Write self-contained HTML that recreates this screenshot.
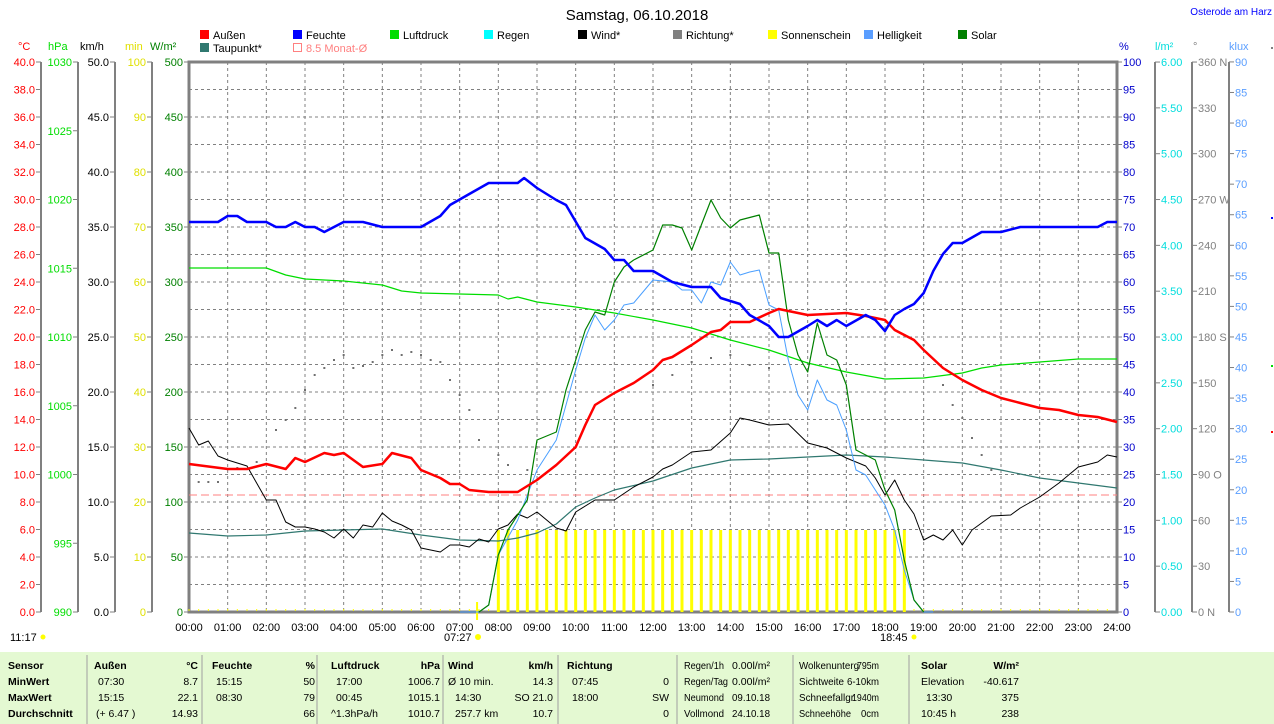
<!DOCTYPE html>
<html><head><meta charset="utf-8"><style>
body{margin:0;background:#fff;width:1274px;height:724px;overflow:hidden;font-family:"Liberation Sans",sans-serif}
svg{display:block}
text{font-family:"Liberation Sans",sans-serif;font-size:11px}
text.f{font-size:10.5px}
</style></head><body>
<svg id="s" width="1274" height="724" xmlns="http://www.w3.org/2000/svg">
<rect x="0" y="652" width="1274" height="72" fill="#e4f9d2"/>
<text x="637" y="20" text-anchor="middle" style="font-size:15px">Samstag, 06.10.2018</text>
<text x="1272" y="15" text-anchor="end" fill="#0000ff" style="font-size:10px">Osterode am Harz</text>
<g id="g"></g>
</svg>
<script>
const NS="http://www.w3.org/2000/svg",g=document.getElementById('g');
function el(t,a,txt){const e=document.createElementNS(NS,t);for(const k in a)e.setAttribute(k,a[k]);if(txt!==undefined)e.textContent=txt;g.appendChild(e);return e;}
const X0=189,XW=928,Y0=612,YT=62;
const X=h=>X0+h*XW/24;
function tp(s){const[a,b]=s.split(':');return +a+(+b)/60;}
for(let i=1;i<20;i++){const y=YT+i*27.5;el('line',{x1:X0,x2:X0+XW,y1:y,y2:y,stroke:'#808080','stroke-dasharray':'3,3'});}
for(let h=1;h<24;h++){el('line',{x1:X(h),x2:X(h),y1:YT,y2:Y0,stroke:'#808080','stroke-dasharray':'3,3'});}
function axis(x,vals,color,fmt,lside){
  el('line',{x1:x,x2:x,y1:YT,y2:Y0,stroke:'#808080','stroke-width':2});
  vals.forEach(v=>{const y=v[0];
    if(lside){el('line',{x1:x-5,x2:x,y1:y,y2:y,stroke:'#808080'});el('text',{x:x-6,y:y+4,'text-anchor':'end',fill:color},v[1]);}
    else{el('line',{x1:x,x2:x+5,y1:y,y2:y,stroke:'#808080'});el('text',{x:x+6,y:y+4,fill:color},v[1]);}
  });
}
let a=[];for(let i=0;i<=20;i++)a.push([Y0-i*27.5,(i*2).toFixed(1)]);axis(41,a,'#ff0000',0,1);
a=[];for(let i=0;i<=8;i++)a.push([Y0-i*68.75,String(990+i*5)]);axis(78,a,'#00dd00',0,1);
a=[];for(let i=0;i<=10;i++)a.push([Y0-i*55,(i*5).toFixed(1)]);axis(115,a,'#000',0,1);
a=[];for(let i=0;i<=10;i++)a.push([Y0-i*55,String(i*10)]);axis(152,a,'#e0e000',0,1);
a=[];for(let i=0;i<=10;i++)a.push([Y0-i*55,String(i*50)]);axis(189,a,'#008000',0,1);
a=[];for(let i=0;i<=20;i++)a.push([Y0-i*27.5,String(i*5)]);axis(1117,a,'#0000cc',0,0);
a=[];for(let i=0;i<=12;i++)a.push([Y0-i*45.83,(i*0.5).toFixed(2)]);axis(1155,a,'#00dddd',0,0);
const dl={0:'0 N',90:'90 O',180:'180 S',270:'270 W',360:'360 N'};
a=[];for(let i=0;i<=12;i++)a.push([Y0-i*45.83,dl[i*30]||String(i*30)]);axis(1192,a,'#808080',0,0);
a=[];for(let i=0;i<=18;i++)a.push([Y0-i*30.56,String(i*5)]);axis(1229,a,'#5a9eff',0,0);
[[18,'°C','#ff0000'],[48,'hPa','#00dd00'],[80,'km/h','#000'],[125,'min','#e0e000'],[150,'W/m²','#008000'],[1119,'%','#0000cc'],[1155,'l/m²','#00dddd'],[1193,'°','#808080'],[1229,'klux','#5a9eff']].forEach(u=>el('text',{x:u[0],y:50,fill:u[2]},u[1]));
el('rect',{x:X0,y:YT,width:XW,height:Y0-YT,fill:'none',stroke:'#808080','stroke-width':3});
for(let h=0;h<=24;h++)el('text',{x:X(h),y:631,'text-anchor':'middle'},(h<10?'0':'')+h+':00');
for(let h=0;h<24;h+=0.25)el('rect',{x:X(h)-0.5,y:609,width:1,height:2,fill:'#ffff00'});
el('text',{x:444,y:641},'07:27');el('circle',{cx:478,cy:637,r:3,fill:'#ffff00'});
el('line',{x1:X(7.45),x2:X(7.45),y1:602,y2:620,stroke:'#ffff00','stroke-width':2});
el('text',{x:880,y:641},'18:45');el('circle',{cx:914,cy:637,r:2.5,fill:'#ffff00'});
el('text',{x:10,y:641},'11:17');el('circle',{cx:43,cy:637,r:2.5,fill:'#ffff00'});
for(let h=8;h<=18.51;h+=0.25)el('rect',{x:X(h)-1.5,y:530,width:3,height:82,fill:'#ffff00'});
el('line',{x1:X0,x2:X0+XW,y1:495,y2:495,stroke:'#ff8080','stroke-dasharray':'8,4'});
function line(d,color,w){let p='';d.forEach((q,i)=>{p+=(i?'L':'M')+X(tp(q[0])).toFixed(1)+','+q[1]+' ';});el('path',{d:p,fill:'none',stroke:color,'stroke-width':w,'stroke-linejoin':'round'});}
function P(s){return s.trim().split(/\s+/).map(t=>{const[a,b]=t.split('=');return[a,+b];});}
P(`0:15=482 0:30=482 0:45=482 1:15=468 1:45=462 2:15=430 2:30=420 2:45=408 3:00=390 3:15=375 3:30=368 3:45=360 4:00=355 4:15=368 4:30=366 4:45=362 5:00=355 5:15=350 5:30=355 5:45=352 6:00=355 6:15=360 6:30=362 6:45=380 7:00=395 7:15=410 7:30=440 8:00=455 8:15=465 8:45=470 12:00=385 12:30=375 13:00=362 13:30=358 14:00=355 14:30=365 15:00=368 18:30=335 18:45=340 19:00=345 19:30=385 19:45=405 20:00=418 20:15=438 20:30=455 20:45=470`).forEach(q=>el('rect',{x:X(tp(q[0]))-1,y:q[1]-1,width:2,height:2,fill:'#707070'}));
line(P(`0:00=533 1:00=536 2:00=535 3:00=531 4:00=530 5:00=529 6:00=535 7:00=540 8:00=541 8:30=538 9:00=533 9:30=524 10:00=507 10:30=498 11:00=490 12:00=481 13:00=468 14:00=460 15:00=459 16:00=457 17:00=455 18:00=457 19:00=460 20:00=463 21:00=470 22:00=478 23:00=483 24:00=488`),'#307870',1.2);
line(P(`0:00=268 2:00=268 2:30=275 3:00=279 4:00=281 5:00=285 5:30=291 6:00=293 8:00=295 8:15=299 8:30=297 9:00=302 10:00=307 11:00=313 12:00=320 13:00=328 14:00=340 15:00=350 16:00=363 17:00=372 18:00=379 19:00=378 20:00=373 20:30=368 21:00=365 22:00=362 23:00=359 24:00=359`),'#00dd00',1.2);
line(P(`0:00=428 0:15=445 0:30=441 0:45=456 1:00=460 1:30=466 2:00=500 2:15=500 2:30=522 2:45=527 3:00=527 3:15=529 3:30=532 3:45=538 4:00=529 4:15=538 4:30=525 4:45=527 5:00=513 5:15=521 5:30=525 5:45=530 6:00=548 6:30=552 6:45=545 7:00=545 7:15=547 7:30=539 7:45=542 8:00=529 8:15=525 8:30=514 8:45=518 9:00=512 9:30=528 9:45=531 10:00=512 10:30=500 11:00=500 11:30=487 12:00=477 12:15=469 12:30=465 13:00=452 13:30=450 14:00=433 14:15=418 14:30=420 15:00=425 15:30=424 16:00=443 16:30=448 17:00=458 17:30=466 17:45=478 18:00=495 18:15=480 18:30=500 18:45=514 19:00=540 19:15=535 19:30=540 19:45=530 20:00=545 20:15=530 20:45=516 21:15=515 21:30=508 22:00=497 22:30=483 23:00=467 23:30=462 23:45=455 24:00=457`),'#000',1);
line(P(`7:00=612 7:30=612 7:45=605 8:00=555 8:30=520 9:00=470 9:30=440 9:45=405 10:00=370 10:15=338 10:30=315 10:45=330 11:00=320 11:15=305 11:30=303 12:00=280 12:30=282 12:45=290 13:00=290 13:15=303 13:30=282 13:45=285 14:00=262 14:15=275 14:30=272 14:45=270 15:00=305 15:15=310 15:30=360 15:45=395 16:00=410 16:15=380 16:30=400 16:45=405 17:00=430 17:15=470 17:30=475 17:45=490 18:00=505 18:15=530 18:30=570 18:45=600 19:00=612 19:15=612`),'#4a9fff',1);
line(P(`7:30=612 7:45=605 8:00=555 8:15=530 8:45=500 9:00=440 9:30=432 9:45=390 10:00=360 10:15=330 10:30=312 10:45=315 11:00=282 11:15=267 11:30=260 12:00=250 12:15=225 12:30=225 12:45=228 13:00=250 13:15=225 13:30=200 13:45=218 14:00=228 14:15=220 14:45=215 15:00=253 15:15=253 15:30=320 15:45=355 16:00=372 16:15=323 16:30=355 16:45=360 17:00=385 17:15=450 17:30=455 17:45=460 18:00=490 18:15=510 18:30=560 18:45=600 19:00=612`),'#008000',1.2);
line(P(`0:00=464 1:00=469 1:30=469 2:00=464 2:30=469 2:45=458 3:00=462 3:30=453 3:45=455 4:00=453 4:30=467 5:00=464 5:15=453 5:45=458 6:00=470 6:30=478 6:45=484 7:00=484 7:15=490 7:45=492 8:30=492 9:00=480 9:30=465 10:00=447 10:15=425 10:30=405 11:00=393 11:30=383 12:00=370 12:15=360 12:30=357 13:00=345 13:30=332 13:45=330 14:00=322 14:30=322 15:00=313 15:15=309 15:45=313 16:00=315 17:00=313 17:30=316 18:00=320 18:15=330 18:45=340 19:00=350 19:30=368 20:00=380 20:30=390 21:00=398 21:30=403 22:00=408 22:30=410 23:00=415 23:30=417 24:00=422`),'#ff0000',2.5);
line(P(`0:00=222 0:45=222 1:00=216 1:15=216 1:30=222 2:00=222 2:15=227 2:30=227 2:45=222 3:00=227 3:15=227 3:30=232 4:00=222 4:30=222 5:00=227 6:00=227 6:30=216 6:45=205 7:15=194 7:45=183 8:30=183 8:40=178 9:00=188 9:30=200 9:45=205 10:15=238 10:45=249 11:00=260 11:15=260 11:30=271 12:00=271 12:30=282 13:00=287 13:30=287 13:45=298 14:15=304 14:30=315 15:00=326 15:15=337 15:30=337 16:00=326 16:15=320 16:30=326 16:45=320 17:00=326 17:30=315 17:45=320 18:00=331 18:15=315 18:30=309 18:45=304 19:00=293 19:15=271 19:30=254 19:45=243 20:00=243 20:30=232 21:00=232 21:30=227 22:00=227 23:30=227 23:45=222 24:00=222`),'#0000ff',2.5);
[[48,'#808080'],[218,'#0000ff'],[432,'#ff0000'],[366,'#00dd00']].forEach(m=>el('rect',{x:1271,y:m[0]-1,width:2,height:2,fill:m[1]}));
[[200,38,'#ff0000','Außen'],[293,38,'#0000ff','Feuchte'],[390,38,'#00dd00','Luftdruck'],[484,38,'#00ffff','Regen'],[578,38,'#000','Wind*'],[673,38,'#808080','Richtung*'],[768,38,'#ffff00','Sonnenschein'],[864,38,'#5a9eff','Helligkeit'],[958,38,'#008000','Solar'],[200,51,'#307870','Taupunkt*']].forEach(l=>{el('rect',{x:l[0],y:l[1]-8,width:9,height:9,fill:l[2]});el('text',{x:l[0]+13,y:l[1]+1},l[3]);});
el('rect',{x:293.5,y:43.5,width:8,height:8,fill:'none',stroke:'#ff8080'});el('text',{x:306,y:52,fill:'#ff8080'},'8.5 Monat-Ø');
[87,202,317,443,558,677,793,909].forEach(x=>el('line',{x1:x,x2:x,y1:655,y2:724,stroke:'#a0a0a0'}));
const rows=[669,685,701,717];
function T(x,r,s,b,end,tl){const o={x:x,y:rows[r],'text-anchor':end?'end':'start','class':'f'};if(tl){o.textLength=tl;o.lengthAdjust='spacingAndGlyphs';}const e=el('text',o,s);if(b)e.setAttribute('font-weight','bold');}
['Sensor','MinWert','MaxWert','Durchschnitt'].forEach((s,i)=>T(8,i,s,1));
T(94,0,'Außen',1);T(198,0,'°C',1,1);T(98,1,'07:30');T(198,1,'8.7',0,1);T(98,2,'15:15');T(198,2,'22.1',0,1);T(96,3,'(+ 6.47 )');T(198,3,'14.93',0,1);
T(212,0,'Feuchte',1);T(315,0,'%',1,1);T(216,1,'15:15');T(315,1,'50',0,1);T(216,2,'08:30');T(315,2,'79',0,1);T(315,3,'66',0,1);
T(331,0,'Luftdruck',1);T(440,0,'hPa',1,1);T(336,1,'17:00');T(440,1,'1006.7',0,1);T(336,2,'00:45');T(440,2,'1015.1',0,1);T(331,3,'^1.3hPa/h');T(440,3,'1010.7',0,1);
T(448,0,'Wind',1);T(553,0,'km/h',1,1);T(448,1,'Ø 10 min.');T(553,1,'14.3',0,1);T(455,2,'14:30');T(553,2,'SO 21.0',0,1);T(455,3,'257.7 km');T(553,3,'10.7',0,1);
T(567,0,'Richtung',1);T(572,1,'07:45');T(669,1,'0',0,1);T(572,2,'18:00');T(669,2,'SW',0,1);T(669,3,'0',0,1);
T(684,0,'Regen/1h',0,0,40);T(770,0,'0.00l/m²',0,1,38);T(684,1,'Regen/Tag',0,0,44);T(770,1,'0.00l/m²',0,1,38);T(684,2,'Neumond',0,0,40);T(770,2,'09.10.18',0,1,38);T(684,3,'Vollmond',0,0,40);T(770,3,'24.10.18',0,1,38);
T(799,0,'Wolkenunterg',0,0,60);T(879,0,'795m',0,1,22);T(799,1,'Sichtweite',0,0,45);T(879,1,'6-10km',0,1,32);T(799,2,'Schneefallgr',0,0,55);T(879,2,'1940m',0,1,27);T(799,3,'Schneehöhe',0,0,52);T(879,3,'0cm',0,1,18);
T(921,0,'Solar',1);T(1019,0,'W/m²',1,1);T(921,1,'Elevation');T(1019,1,'-40.617',0,1);T(926,2,'13:30');T(1019,2,'375',0,1);T(921,3,'10:45 h');T(1019,3,'238',0,1);
</script>
</body></html>
